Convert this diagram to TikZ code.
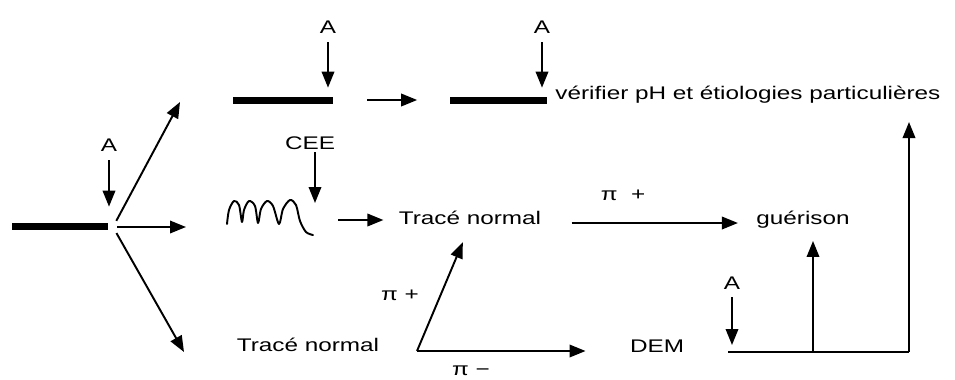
\documentclass[tikz,border=0pt]{standalone}
\usepackage{fontspec}
\setmainfont{Liberation Sans}
\usetikzlibrary{arrows.meta}
\begin{document}
\begin{tikzpicture}[
x=0.02cm,y=-0.02cm,
txt/.style={font=\fontsize{10.4}{12}\selectfont,inner sep=0pt,xscale=1.33,text=black},
bar/.style={fill=black,inner sep=0pt,minimum height=0.14cm},
line/.style={line width=1.1pt},
arr/.style={line,-{Triangle[length=0.32cm,width=0.25cm]}}
]
\useasboundingbox (0,0) rectangle (955,379);
\node[bar,minimum width=1.92cm] (b0) at (60,226) {};
\node[bar,minimum width=2.0cm] (b1) at (283,100) {};
\node[bar,minimum width=1.94cm] (b2) at (498,100) {};
\node[txt] (a0) at (109,145) {A};
\node[txt] (a1) at (328,27) {A};
\node[txt] (a2) at (542,27) {A};
\node[txt] (a3) at (732,283) {A};
\node[txt] (cee) at (310,143) {CEE};
\node[txt,anchor=west] (ver) at (555,95) {vérifier pH et étiologies particulières};
\node[txt] (tn1) at (470,218) {Tracé normal};
\node[txt] (tn2) at (308,345) {Tracé normal};
\node[txt] (gue) at (803,220) {guérison};
\node[txt] (dem) at (657,346) {DEM};
\node[txt] (p1) at (623,195) {π~~+};
\node[txt] (p2) at (400,295) {π +};
\node[txt] (p3) at (471,371) {π −};
\coordinate (o) at (113,227);
\coordinate (fu) at (180,102);
\coordinate (fr) at (186,227);
\coordinate (fd) at (184,352);
\coordinate (wtop) at (315,203);
\coordinate (w1) at (338,220);
\coordinate (v) at (417,351);
\coordinate (d0) at (728,352);
\coordinate (d1) at (909,352);
\coordinate (d2) at (813,352);
\coordinate (vtop) at (909,122);
\draw[arr,shorten <=0.17cm,shorten >=0.31cm] (a0) -- (a0 |- b0.north);
\draw[arr,shorten <=0.17cm,shorten >=0.17cm] (a1) -- (a1 |- b1.north);
\draw[arr,shorten <=0.17cm,shorten >=0.17cm] (a2) -- (a2 |- b2.north);
\draw[arr,shorten <=0.15cm,shorten >=0.14cm] (a3) -- (a3 |- d0);
\draw[arr,shorten <=0.14cm] (o) -- (fu);
\draw[arr,shorten <=0.08cm] (o) -- (fr);
\draw[arr,shorten <=0.14cm] (o) -- (fd);
\draw[arr,shorten <=0.68cm,shorten >=0.64cm] (b1) -- (b2);
\draw[arr,shorten <=0.05cm] (cee.south -| wtop) -- (wtop);
\draw[line,line cap=round,line join=round] plot[smooth,tension=0.5] coordinates {(227,224) (229,210) (234,201) (239,205) (242,222) (244,210) (249,201) (255,206) (258,223) (261,209) (267,201) (273,206) (279,224) (283,209) (290,200) (296,205) (300,221) (306,232) (313,235)};
\draw[arr,shorten >=0.3cm] (w1) -- (w1 -| tn1.west);
\draw[arr,shorten <=0.6cm,shorten >=0.36cm] ([yshift=-0.1cm]tn1.east) -- ([yshift=-0.1cm]tn1.east -| gue.west);
\draw[arr,shorten >=0.37cm] (v) -- (tn1.south);
\draw[arr,shorten >=0.88cm] (v) -- (v -| dem.west);
\draw[line] (d0) -- (d1);
\draw[arr] (d1) -- (vtop);
\draw[arr,shorten >=0.24cm] (d2) -- (d2 |- gue.south);
\end{tikzpicture}
\end{document}
